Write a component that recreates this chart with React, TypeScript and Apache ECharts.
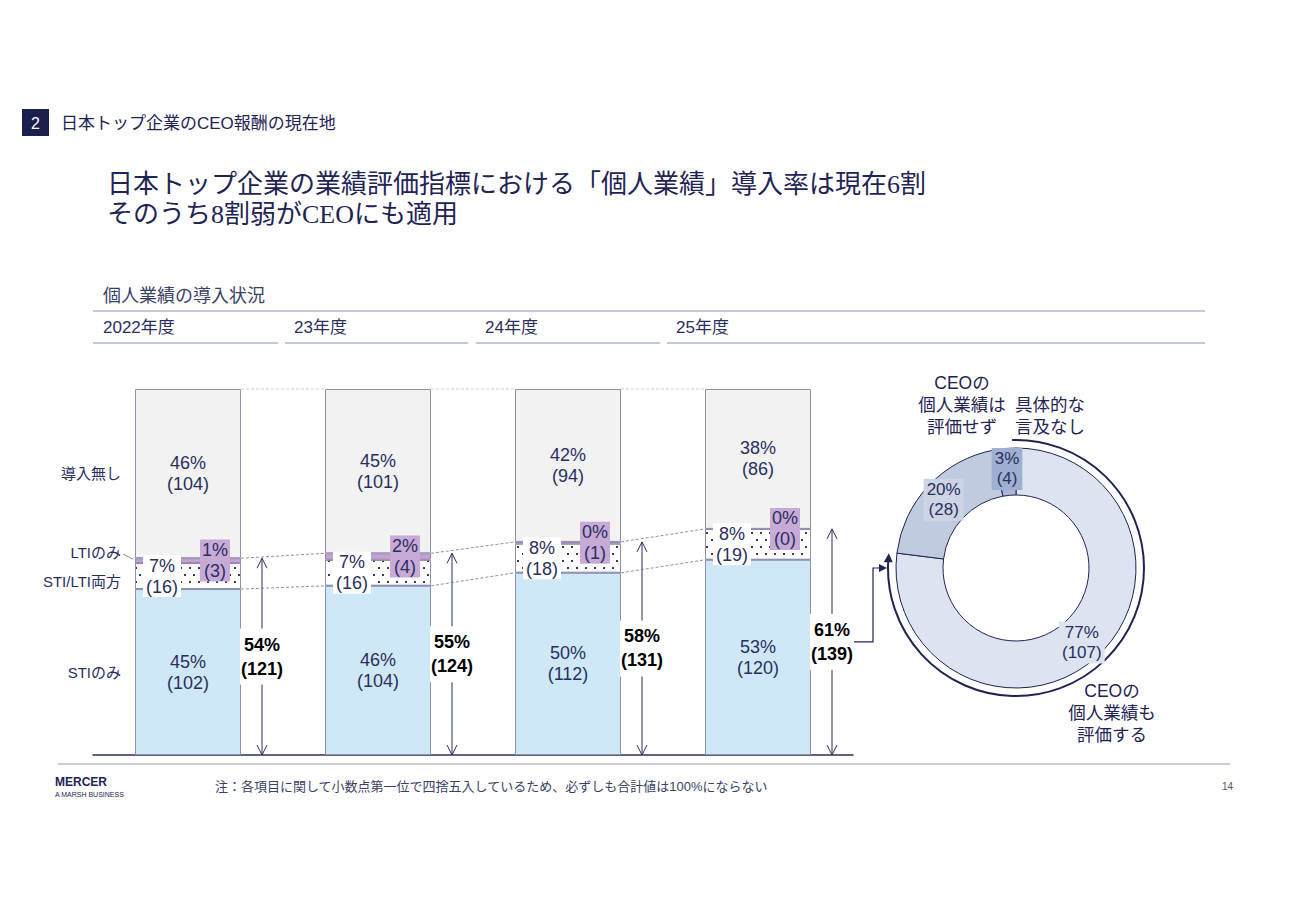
import * as echarts from "echarts";
import { useEffect, useRef } from "react";

// 個人業績の導入状況（社数）
const years = ["2022年度", "23年度", "24年度", "25年度"];
const stiOnly = [102, 104, 112, 120];
const stiOnlyPct = [45, 46, 50, 53];
const bothCount = [16, 16, 18, 19];
const bothPct = [7, 7, 8, 8];
const ltiOnly = [3, 4, 1, 0];
const ltiOnlyPct = [1, 2, 0, 0];
const noneCount = [104, 101, 94, 86];
const nonePct = [46, 45, 42, 38];
const adoptedCount = [121, 124, 131, 139];
const adoptedPct = [54, 55, 58, 61];
const rowLabels = ["導入無し", "LTIのみ", "STI/LTI両方", "STIのみ"];

// 25年度：CEOへの適用
const ceoNames = ["CEOの個人業績も評価する", "CEOの個人業績は評価せず", "具体的な言及なし"];
const ceoCount = [107, 28, 4];
const ceoPct = [77, 20, 3];
const ceoColors = ["#dde3f0", "#c1cbe0", "#a9b7d5"];
const ceoLabelBg = ["#dde3f0", "#ccd4e6", "#9fafd1"];

const TOTAL = stiOnly[0] + bothCount[0] + ltiOnly[0] + noneCount[0];

const NAVY = "#1f2454";
const TEXT = "#2a2f5e";
const EDGE = "#8d90ae";
const SANS = "'Liberation Sans', 'Noto Sans CJK JP', sans-serif";
const SERIF = "'Liberation Serif', 'Noto Sans CJK JP', serif";
const BAR_W = 106;
const PIE_CX = 1016;
const PIE_CY = 568;
const PIE_R_IN = 73;
const PIE_R_OUT = 120;
const ARC_R = 128;

const renderOverlay = (_params: any, api: any) => {
    const i = api.value(0) as number;
    const [xc, y0] = api.coord([i, 0]);
    const half = BAR_W / 2;
    const yOf = (v: number) => api.coord([i, v])[1];
    const yTop = yOf(adoptedCount[i]);
    const yMid = yOf(adoptedCount[i] / 2);
    const ax = xc + half + 21;
    const children: any[] = [];

    // 両矢印
    children.push({
        type: "line",
        shape: { x1: ax, y1: y0, x2: ax, y2: yTop },
        style: { stroke: TEXT, lineWidth: 1 },
    });
    children.push({
        type: "polyline",
        shape: { points: [[ax - 5, yTop + 10], [ax, yTop], [ax + 5, yTop + 10]] },
        style: { stroke: TEXT, fill: "none", lineWidth: 1 },
    });
    children.push({
        type: "polyline",
        shape: { points: [[ax - 5, y0 - 10], [ax, y0], [ax + 5, y0 - 10]] },
        style: { stroke: TEXT, fill: "none", lineWidth: 1 },
    });
    children.push({
        type: "text",
        x: ax,
        y: yMid,
        z2: 5,
        style: {
            text: `${adoptedPct[i]}%\n(${adoptedCount[i]})`,
            fill: "#000",
            fontSize: 18,
            fontWeight: "bold",
            fontFamily: SANS,
            align: "center",
            verticalAlign: "middle",
            lineHeight: 24,
            backgroundColor: "#fff",
            padding: [4, 1],
        },
    });

    if (i < years.length - 1) {
        const [xn] = api.coord([i + 1, 0]);
        const yNext = (v: number) => api.coord([i + 1, v])[1];
        const x1 = xc + half;
        const x2 = xn - half;
        children.push({
            type: "line",
            shape: { x1, y1: yOf(TOTAL), x2, y2: yNext(TOTAL) },
            style: { stroke: "#c9cbdb", lineWidth: 1, lineDash: [3, 2] },
        });
        children.push({
            type: "line",
            shape: { x1, y1: yTop, x2, y2: yNext(adoptedCount[i + 1]) },
            style: { stroke: "#6f7396", lineWidth: 0.8, lineDash: [3, 2] },
        });
        children.push({
            type: "line",
            shape: { x1, y1: yOf(stiOnly[i]), x2, y2: yNext(stiOnly[i + 1]) },
            style: { stroke: "#6f7396", lineWidth: 0.8, lineDash: [3, 2] },
        });
    } else {
        // ドーナツへの接続線
        const lx = PIE_CX - PIE_R_OUT - 23;
        const tipX = PIE_CX - ARC_R - 1;
        children.push({
            type: "polyline",
            shape: { points: [[ax + 21, yMid], [lx, yMid], [lx, PIE_CY], [tipX - 6, PIE_CY]] },
            style: { stroke: NAVY, fill: "none", lineWidth: 1.2 },
        });
        children.push({
            type: "polygon",
            shape: { points: [[tipX, PIE_CY], [tipX - 8, PIE_CY - 4], [tipX - 8, PIE_CY + 4]] },
            style: { fill: NAVY },
        });
    }

    if (i === 0) {
        const lx = xc - half - 14;
        const ys = [
            yOf(adoptedCount[0] + noneCount[0] / 2),
            yOf(adoptedCount[0]) - 6,
            yOf(stiOnly[0] + bothCount[0] / 2) + 5,
            yOf(stiOnly[0] / 2),
        ];
        rowLabels.forEach((t, k) => {
            children.push({
                type: "text",
                x: lx,
                y: ys[k],
                style: {
                    text: t,
                    fill: TEXT,
                    fontSize: 15,
                    fontFamily: SANS,
                    align: "right",
                    verticalAlign: "middle",
                },
            });
        });
        children.push({
            type: "line",
            shape: { x1: lx + 2, y1: ys[1] + 2, x2: xc - half - 2, y2: ys[1] + 7 },
            style: { stroke: "#8d90ae", lineWidth: 1 },
        });
    }

    return { type: "group", children };
};

const barLabel = (pcts: number[], extra: any = {}) => ({
    show: true,
    position: "inside",
    color: TEXT,
    fontSize: 18,
    lineHeight: 21,
    fontFamily: SANS,
    formatter: (p: any) => `${pcts[p.dataIndex]}%\n(${p.value})`,
    ...extra,
});

const arcEnd = Math.PI + 0.06;
const headTip = Math.PI + 0.115;

const App: React.FC = () => {
    const chartRef = useRef<HTMLDivElement>(null);

    useEffect(() => {
        const chart = echarts.init(chartRef.current!, null, { renderer: "svg" });

        const tipX = PIE_CX + ARC_R * Math.cos(headTip);
        const tipY = PIE_CY + ARC_R * Math.sin(headTip);
        const baseY = PIE_CY + ARC_R * Math.sin(arcEnd) + 2;
        const baseX = PIE_CX + ARC_R * Math.cos(arcEnd);

        const option = {
            animation: false,
            textStyle: { fontFamily: SANS },
            grid: { left: 93, top: 389, width: 760, height: 366 },
            xAxis: {
                type: "category",
                data: years,
                axisLine: { lineStyle: { color: TEXT, width: 1.5 } },
                axisTick: { show: false },
                axisLabel: { show: false },
            },
            yAxis: {
                type: "value",
                min: 0,
                max: TOTAL,
                show: false,
                splitLine: { show: false },
            },
            series: [
                {
                    name: "STIのみ",
                    type: "bar",
                    stack: "a",
                    barWidth: BAR_W,
                    silent: true,
                    data: stiOnly,
                    itemStyle: { color: "#cfe8f7", borderColor: EDGE, borderWidth: 1 },
                    label: barLabel(stiOnlyPct),
                },
                {
                    name: "STI/LTI両方",
                    type: "bar",
                    stack: "a",
                    barWidth: BAR_W,
                    silent: true,
                    data: bothCount,
                    itemStyle: {
                        color: "#ffffff",
                        borderColor: EDGE,
                        borderWidth: 1,
                        decal: {
                            symbol: "rect",
                            symbolSize: 1,
                            color: "#3a3a4c",
                            dashArrayX: [
                                [1.2, 6.8],
                                [0, 4, 1.2, 2.8],
                            ],
                            dashArrayY: [1.2, 5],
                            rotation: 0,
                        },
                    },
                    label: barLabel(bothPct, {
                        offset: [-26, 0],
                        backgroundColor: "#ffffff",
                        padding: [0, 3],
                    }),
                },
                {
                    name: "LTIのみ",
                    type: "bar",
                    stack: "a",
                    barWidth: BAR_W,
                    silent: true,
                    data: ltiOnly,
                    itemStyle: { color: "#c2a3d3", borderColor: "#9c84ad", borderWidth: 1 },
                    label: barLabel(ltiOnlyPct, {
                        offset: [27, 0],
                        backgroundColor: "#c8aad7",
                        padding: [0, 2],
                    }),
                },
                {
                    name: "導入無し",
                    type: "bar",
                    stack: "a",
                    barWidth: BAR_W,
                    silent: true,
                    data: noneCount,
                    itemStyle: { color: "#f2f2f2", borderColor: EDGE, borderWidth: 1 },
                    label: barLabel(nonePct),
                },
                {
                    type: "custom",
                    silent: true,
                    z: 10,
                    renderItem: renderOverlay,
                    data: adoptedCount.map((v, i) => [i, v]),
                    encode: { x: 0, y: 1 },
                },
                {
                    type: "pie",
                    silent: true,
                    center: [PIE_CX, PIE_CY],
                    radius: [PIE_R_IN, PIE_R_OUT],
                    startAngle: 90,
                    clockwise: true,
                    avoidLabelOverlap: false,
                    itemStyle: { borderColor: NAVY, borderWidth: 1 },
                    labelLine: { show: false },
                    label: {
                        show: true,
                        position: "inside",
                        color: TEXT,
                        fontSize: 17,
                        lineHeight: 20,
                        fontFamily: SANS,
                        padding: [1, 3],
                        formatter: (p: any) => `${ceoPct[p.dataIndex]}%\n(${p.value})`,
                    },
                    data: ceoCount.map((v, i) => ({
                        name: ceoNames[i],
                        value: v,
                        itemStyle: { color: ceoColors[i] },
                        label: { backgroundColor: ceoLabelBg[i] },
                    })),
                },
            ],
            graphic: [
                // ヘッダー
                { type: "rect", shape: { x: 22, y: 109, width: 27, height: 27 }, style: { fill: "#1a1f4e" } },
                {
                    type: "text", x: 35.5, y: 123,
                    style: { text: "2", fill: "#fff", fontSize: 16, fontFamily: SANS, align: "center", verticalAlign: "middle" },
                },
                {
                    type: "text", x: 61, y: 123,
                    style: { text: "日本トップ企業のCEO報酬の現在地", fill: NAVY, fontSize: 17, fontFamily: SANS, verticalAlign: "middle" },
                },
                {
                    type: "text", x: 107, y: 199,
                    style: {
                        text: "日本トップ企業の業績評価指標における「個人業績」導入率は現在6割\nそのうち8割弱がCEOにも適用",
                        fill: NAVY, fontSize: 26, lineHeight: 30, fontFamily: SERIF, verticalAlign: "middle",
                    },
                },
                {
                    type: "text", x: 103, y: 296,
                    style: { text: "個人業績の導入状況", fill: "#3a3f66", fontSize: 18, fontFamily: SANS, verticalAlign: "middle" },
                },
                { type: "line", shape: { x1: 93, y1: 311, x2: 1205, y2: 311 }, style: { stroke: "#8e91ad", lineWidth: 1.2 } },
                ...years.map((y, k) => ({
                    type: "text", x: [103, 294, 485, 676][k], y: 327,
                    style: { text: y, fill: TEXT, fontSize: 17, fontFamily: SANS, verticalAlign: "middle" },
                })),
                ...[[93, 278], [285, 468], [476, 660], [667, 1205]].map(([a, b]) => ({
                    type: "line", shape: { x1: a, y1: 343, x2: b, y2: 343 }, style: { stroke: "#c4c7da", lineWidth: 2 },
                })),
                // ドーナツ注記
                {
                    type: "text", x: 962, y: 405,
                    style: { text: "CEOの\n個人業績は\n評価せず", fill: NAVY, fontSize: 17.5, lineHeight: 22, fontFamily: SANS, align: "center", verticalAlign: "middle" },
                },
                {
                    type: "text", x: 1050, y: 416,
                    style: { text: "具体的な\n言及なし", fill: NAVY, fontSize: 17.5, lineHeight: 22, fontFamily: SANS, align: "center", verticalAlign: "middle" },
                },
                {
                    type: "text", x: 1112, y: 713,
                    style: { text: "CEOの\n個人業績も\n評価する", fill: NAVY, fontSize: 17.5, lineHeight: 22, fontFamily: SANS, align: "center", verticalAlign: "middle" },
                },
                {
                    type: "arc",
                    shape: { cx: PIE_CX, cy: PIE_CY, r: ARC_R, startAngle: -Math.PI / 2 - 0.03, endAngle: arcEnd, clockwise: true },
                    style: { stroke: NAVY, lineWidth: 2, fill: "none" },
                },
                {
                    type: "polygon",
                    shape: { points: [[tipX, tipY], [baseX - 4.5, baseY], [baseX + 4.5, baseY]] },
                    style: { fill: NAVY },
                },
                // フッター
                { type: "line", shape: { x1: 58, y1: 764, x2: 1230, y2: 764 }, style: { stroke: "#9a9cb8", lineWidth: 1 } },
                {
                    type: "text", x: 55, y: 782,
                    style: { text: "MERCER", fill: NAVY, fontSize: 12, fontWeight: "bold", fontFamily: SANS, verticalAlign: "middle" },
                },
                {
                    type: "text", x: 55, y: 794,
                    style: { text: "A MARSH BUSINESS", fill: NAVY, fontSize: 7, fontFamily: SANS, verticalAlign: "middle" },
                },
                {
                    type: "text", x: 215, y: 786,
                    style: {
                        text: "注：各項目に関して小数点第一位で四捨五入しているため、必ずしも合計値は100%にならない",
                        fill: "#3a3f66", fontSize: 13, fontFamily: SANS, verticalAlign: "middle",
                    },
                },
                {
                    type: "text", x: 1222, y: 786,
                    style: { text: "14", fill: "#555", fontSize: 10, fontFamily: SANS, verticalAlign: "middle" },
                },
            ],
        };

        chart.setOption(option as any);

        return () => {
            chart.dispose();
        };
    }, []);

    return (
        <div
            ref={chartRef}
            style={{
                position: "fixed",
                left: 0,
                top: 0,
                width: "1300px",
                height: "919px",
                background: "#fff",
            }}
        />
    );
};

export default App;
